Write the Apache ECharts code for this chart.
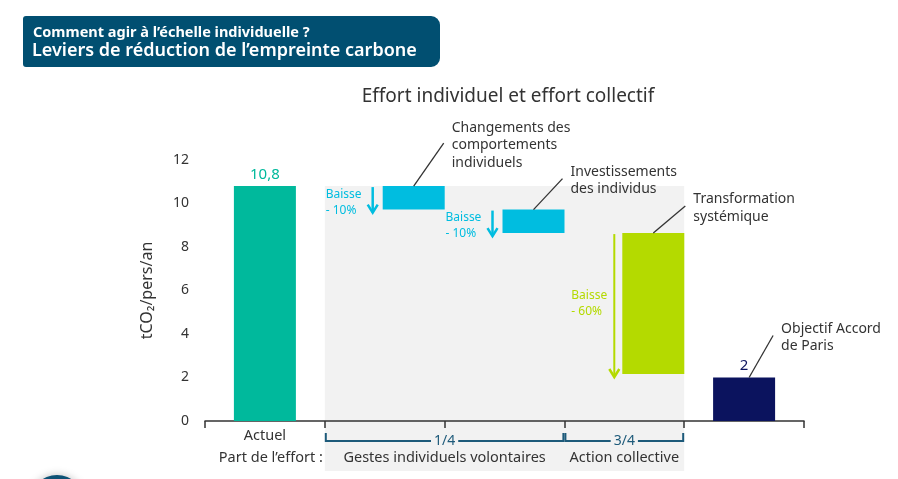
<!DOCTYPE html>
<html><head><meta charset="utf-8">
<script src="https://cdn.jsdelivr.net/npm/echarts@6/dist/echarts.min.js"></script>
<style>html,body{margin:0;padding:0;background:#fff}#c{width:898px;height:479px}</style>
</head><body><div id="c"></div>
<script>
// ---------- data ----------
const categories = ['Actuel', 'Changements des comportements individuels', 'Investissements des individus', 'Transformation systémique', 'Objectif Accord de Paris'];
const tickLabels = ['Actuel', '', '', '', ''];
const endpoints = [10.8, null, null, null, 2];
const endLabels = ['10,8', null, null, null, '2'];
const stepBase = [null, 9.72, 8.64, 2.16, null];
const stepDrop = [null, 1.08, 1.08, 6.48, null];
const dropLabels = [null, 'Baisse\n- 10%', 'Baisse\n- 10%', 'Baisse\n- 60%', null];
const leaderLabels = [null, 'Changements des\ncomportements\nindividuels', 'Investissements\ndes individus', 'Transformation\nsystémique', 'Objectif Accord\nde Paris'];
const yTicks = [0, 2, 4, 6, 8, 10, 12];
const groupLabels = ['Gestes individuels volontaires', 'Action collective'];
const groupShares = ['1/4', '3/4'];
const groupFrom = [1, 3];
const groupTo = [2, 3];
const effortLabel = 'Part de l\u2019effort :';
const chartTitle = 'Effort individuel et effort collectif';
const headerSub = 'Comment agir à l\u2019échelle individuelle ?';
const headerMain = 'Leviers de réduction de l\u2019empreinte carbone';
const yName = 'tCO\u2082/pers/an';

// ---------- styles ----------
const FONT = '"Noto Sans", "Open Sans", sans-serif';
const endColors = ['#00b99c', null, null, null, '#0b135e'];
const dropColors = [null, '#00bde0', '#00bde0', '#b4da00', null];
const leaderOffsets = [null, [0, 30, -43], [0, 29, -31], [0, 32, -27], [5, 24, -42]];
const TEXT = '#333';
const BRACKET = '#1d5a7a';
const GRAY = '#f2f2f2';

const chart = echarts.init(document.getElementById('c'));

const option = {
  animation: false,
  textStyle: { fontFamily: FONT },
  title: {
    text: chartTitle, left: 503, top: 82, textAlign: 'center',
    textStyle: { fontFamily: FONT, fontSize: 19, fontWeight: 'normal', color: TEXT }
  },
  grid: { left: 205, right: 94, top: 160, bottom: 58 },
  xAxis: [{
    type: 'category', data: categories,
    axisLine: { lineStyle: { color: TEXT, width: 1.5 } },
    axisTick: { show: true, length: 7, lineStyle: { color: TEXT, width: 1.5 } },
    axisLabel: { formatter: (v, i) => tickLabels[i], color: TEXT, fontSize: 14.5, margin: 7, fontFamily: FONT }
  }, {
    type: 'category', data: categories, show: false
  }],
  yAxis: {
    type: 'value', min: yTicks[0], max: yTicks[yTicks.length - 1], interval: 2,
    axisLine: { show: false }, axisTick: { show: false }, splitLine: { show: false },
    axisLabel: { color: TEXT, fontSize: 14, margin: 16, fontFamily: FONT, padding: [0, 0, 5, 0] },
    name: yName, nameLocation: 'middle', nameGap: 50, nameRotate: 90,
    nameTextStyle: { color: TEXT, fontSize: 16, fontFamily: FONT }
  },
  series: [
    {
      type: 'bar', xAxisIndex: 0, barWidth: 62, z: 3,
      data: endpoints.map((v, i) => v == null ? '-' : {
        value: v, itemStyle: { color: endColors[i] },
        label: { show: true, position: 'top', distance: 4, formatter: endLabels[i], color: endColors[i], fontSize: 15, fontFamily: FONT }
      })
    },
    { type: 'bar', xAxisIndex: 1, barWidth: 62, barGap: '-6.45%', data: categories.map(() => '-') },
    {
      type: 'bar', xAxisIndex: 1, stack: 'w', barWidth: 62, barGap: '-6.45%',
      itemStyle: { color: 'transparent' }, data: stepBase.map(v => v == null ? '-' : v)
    },
    {
      type: 'bar', xAxisIndex: 1, stack: 'w', barWidth: 62, barGap: '-6.45%', z: 3,
      data: stepDrop.map((v, i) => v == null ? '-' : { value: v, itemStyle: { color: dropColors[i] } })
    }
  ]
};
chart.setOption(option);

// ---------- annotations from library layout ----------
const model = chart.getModel();
function barBox(si, i) {
  const l = model.getSeriesByIndex(si).getData().getItemLayout(i);
  const top = Math.min(l.y, l.y + l.height), bottom = Math.max(l.y, l.y + l.height);
  return { x: l.x, w: l.width, cx: l.x + l.width / 2, top, bottom };
}
const px = (i) => chart.convertToPixel({ xAxisIndex: 0 }, categories[i]);
const band = px(1) - px(0);
const yPx = (v) => chart.convertToPixel({ yAxisIndex: 0 }, v);
const axisY = yPx(0);

const g = [];
// header
g.push({ type: 'rect', shape: { x: 23, y: 16, width: 417, height: 51, r: [3, 9, 9, 3] }, style: { fill: '#014f71' }, z: 10 });
g.push({ type: 'text', x: 33, y: 33, style: { text: headerSub, fill: '#fff', font: 'bold 14.5px ' + FONT, verticalAlign: 'middle' }, z: 11 });
g.push({ type: 'text', x: 32, y: 51, style: { text: headerMain, fill: '#fff', font: '600 18px ' + FONT, verticalAlign: 'middle' }, z: 11 });
// bottom-left decoration
g.push({ type: 'circle', shape: { cx: 57, cy: 502, r: 27 }, style: { fill: '#0d5275', shadowBlur: 8, shadowColor: 'rgba(0,0,0,0.25)' }, z: 10 });

// gray zone
const gLeft = px(groupFrom[0]) - band / 2, gRight = px(groupTo[groupTo.length - 1]) + band / 2;
g.push({ type: 'rect', shape: { x: gLeft, y: yPx(endpoints[0]), width: gRight - gLeft, height: 471 - yPx(endpoints[0]) }, style: { fill: GRAY }, z: -10 });

// drops: arrows + texts + leaders
for (let i = 0; i < categories.length; i++) {
  let b = null;
  if (stepDrop[i] != null) b = barBox(3, i);
  else if (endpoints[i] != null) b = barBox(0, i);
  if (!b) continue;
  if (stepDrop[i] != null) {
    const c = dropColors[i];
    const big = b.bottom - b.top > 60;
    const ax = b.x - (big ? 8 : 10);
    const y2 = b.bottom + 3;
    g.push({ type: 'line', shape: { x1: ax, y1: b.top + 1, x2: ax, y2: y2 }, style: { stroke: c, lineWidth: big ? 2 : 2.5 }, z: 5 });
    g.push({ type: 'polyline', shape: { points: [[ax - 5, y2 - 8], [ax, y2], [ax + 5, y2 - 8]] }, style: { stroke: c, lineWidth: 2.5, fill: null }, z: 5 });
    g.push({
      type: 'text', x: ax - (big ? 43 : 47), y: big ? (b.top + b.bottom) / 2 : b.top,
      style: { text: dropLabels[i], fill: c, font: '12px ' + FONT, lineHeight: 16, verticalAlign: big ? 'middle' : 'top', align: 'left' }, z: 5
    });
  }
  if (leaderLabels[i]) {
    const o = leaderOffsets[i];
    const x1 = b.cx + o[0], y1 = b.top, x2 = x1 + o[1], y2 = y1 + o[2];
    g.push({ type: 'line', shape: { x1, y1, x2, y2 }, style: { stroke: '#333', lineWidth: 1.3 }, z: 6 });
    g.push({
      type: 'text', x: x2 + 8, y: y2 + 2,
      style: { text: leaderLabels[i], fill: TEXT, font: '14px ' + FONT, lineHeight: 17.5, verticalAlign: 'middle', align: 'left' }, z: 6
    });
  }
}

// brackets
const brY = axisY + 20;
for (let k = 0; k < groupLabels.length; k++) {
  const l = px(groupFrom[k]) - band / 2 + 1, r = px(groupTo[k]) + band / 2 - 1;
  g.push({ type: 'polyline', shape: { points: [[l, brY - 8], [l, brY], [r, brY], [r, brY - 8]] }, style: { stroke: BRACKET, lineWidth: 2, fill: null }, z: 5 });
  g.push({ type: 'text', x: (l + r) / 2, y: brY, style: { text: groupShares[k], fill: BRACKET, font: '14px ' + FONT, align: 'center', verticalAlign: 'middle', backgroundColor: GRAY, padding: [0, 3] }, z: 6 });
  g.push({ type: 'text', x: (l + r) / 2, y: axisY + 37, style: { text: groupLabels[k], fill: TEXT, font: '14.5px ' + FONT, align: 'center', verticalAlign: 'middle' }, z: 6 });
}
g.push({ type: 'text', x: gLeft - 2, y: axisY + 37, style: { text: effortLabel, fill: TEXT, font: '14.5px ' + FONT, align: 'right', verticalAlign: 'middle' }, z: 6 });

chart.setOption({ graphic: { elements: g } });
</script>
</body></html>
